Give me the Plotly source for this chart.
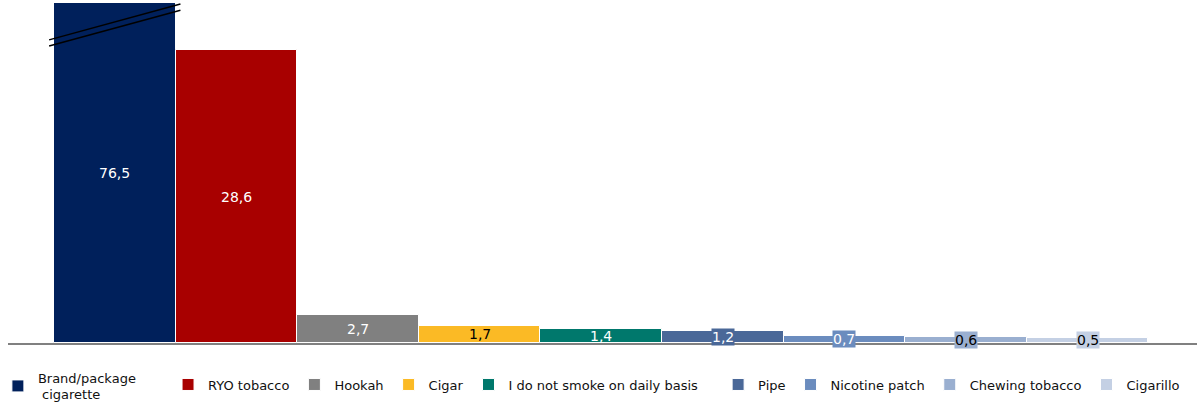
import plotly.graph_objects as go

categories = ["Brand/package cigarette", "RYO tobacco", "Hookah", "Cigar",
              "I do not smoke on daily basis", "Pipe", "Nicotine patch",
              "Chewing tobacco", "Cigarillo"]
legend_labels = ["Brand/package<br> cigarette", "RYO tobacco", "Hookah", "Cigar",
                 "I do not smoke on daily basis", "Pipe", "Nicotine patch",
                 "Chewing tobacco", "Cigarillo"]
values = [76.5, 28.6, 2.7, 1.7, 1.4, 1.2, 0.7, 0.6, 0.5]
colors = ["#00205B", "#A80000", "#808080", "#FBBA25", "#00786C",
          "#4A6898", "#6B8CBE", "#9AAFD0", "#C4D0E4"]
label_colors = ["white", "white", "white", "black", "white",
                "white", "white", "black", "black"]
legend_group = ["legend", "legend3", "legend3", "legend3", "legend3",
                "legend2", "legend2", "legend2", "legend2"]

FONT = "DejaVu Sans, Verdana, sans-serif"
Y_MAX = 33.2
BOX_BELOW = 1.3  # labels of bars lower than this get a coloured box

fig = go.Figure()
for cat, lab, v, c, lg in zip(categories, legend_labels, values, colors, legend_group):
    fig.add_trace(go.Bar(
        x=[cat], y=[v], name=lab, marker=dict(color=c, line=dict(color="white", width=1)),
        legend=lg, hoverinfo="skip",
    ))

for cat, v, c, tc in zip(categories, values, colors, label_colors):
    fig.add_annotation(
        x=cat, y=min(v, Y_MAX) / 2, text=f"{v:.1f}".replace(".", ","),
        showarrow=False, font=dict(family=FONT, size=14, color=tc),
        bgcolor=c if v < BOX_BELOW else "rgba(0,0,0,0)", borderpad=0,
        xanchor="center", yanchor="middle",
    )

# axis break marks on the first bar
for dy in (0.0, -0.6):
    fig.add_shape(type="line", xref="x", yref="y",
                  x0=-0.54, x1=0.54, y0=29.6 + dy, y1=33.1 + dy,
                  line=dict(color="black", width=1.5))

legend_font = dict(family=FONT, size=13, color="#111111")
fig.update_layout(
    width=1197, height=402,
    margin=dict(l=8, r=0, t=3, b=59, autoexpand=False),
    paper_bgcolor="white", plot_bgcolor="white",
    barmode="overlay", bargap=0,
    font=dict(family=FONT, size=13, color="#222222"),
    showlegend=True,
    legend=dict(orientation="h", x=-0.0085, xanchor="left", y=-0.0574, yanchor="top",
                font=legend_font, traceorder="normal", itemclick=False),
    legend3=dict(orientation="h", x=0.1346, xanchor="left", y=-0.078, yanchor="top",
                 font=legend_font, traceorder="normal", itemclick=False),
    legend2=dict(orientation="h", x=0.99, xanchor="right", y=-0.078, yanchor="top",
                 font=legend_font, traceorder="normal", itemclick=False),
    xaxis=dict(categoryorder="array", categoryarray=categories,
               range=[-0.878, 8.9], showticklabels=False, ticks="",
               showline=True, linecolor="#808080", linewidth=2, showgrid=False,
               zeroline=False, fixedrange=True),
    yaxis=dict(range=[0, Y_MAX], visible=False, showgrid=False, zeroline=False,
               fixedrange=True),
)

fig.write_html("out.html", config={"displayModeBar": False},
               post_script="document.body.style.margin='0';document.body.style.overflow='hidden';")
